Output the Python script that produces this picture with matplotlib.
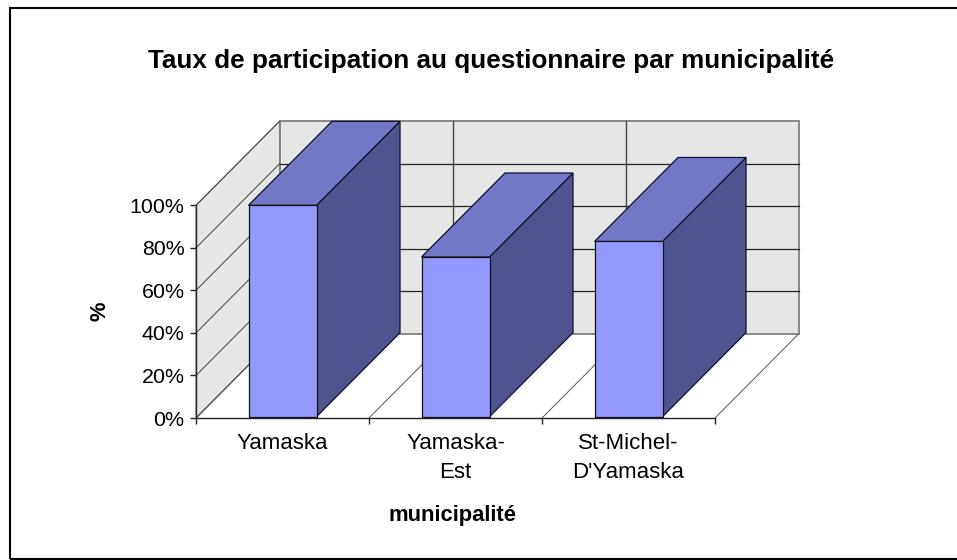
import matplotlib
matplotlib.use('Agg')
import matplotlib.pyplot as plt
from matplotlib.patches import Rectangle

municipalites = ["Yamaska", "Yamaska-\nEst", "St-Michel-\nD'Yamaska"]
participation = [100, 75.7, 83]
y_ticks = [0, 20, 40, 60, 80, 100]
y_labels = ['0%', '20%', '40%', '60%', '80%', '100%']

W, H = 957, 560
plt.rcParams['font.family'] = ['Liberation Sans', 'DejaVu Sans']

# depth of the fake 3D box, in data units (1 category = 173 px, 100% = 212.7 px)
depth_x = 83.5 / 173
depth_y = 84 / 2.127
bar_width = 68 / 173
wall = '#e6e6e6'
edge = '#111133'


def back(x, y):
	return x + depth_x, y + depth_y


def poly(ax, pts, color, ec, lw=1.0, z=2):
	ax.fill([p[0] for p in pts], [p[1] for p in pts], facecolor=color, edgecolor=ec,
		linewidth=lw, zorder=z, clip_on=False, joinstyle='miter')


fig = plt.figure(figsize=(W / 100, H / 100), dpi=100)
fig.patch.set_facecolor('white')
# frame runs off the right side of the picture
fig.add_artist(Rectangle((9.5 / W, 1 - 559 / H), (W + 20) / W, 551.5 / H, transform=fig.transFigure,
	fill=False, edgecolor='black', linewidth=1.5))

ax = fig.add_axes([196 / W, (H - 418) / H, 519 / W, 212.7 / H])
ax.set_xlim(0, len(municipalites))
ax.set_ylim(0, 100)
ax.patch.set_visible(False)
for s in ['top', 'right']:
	ax.spines[s].set_visible(False)
for s in ['left', 'bottom']:
	ax.spines[s].set_linewidth(1.0)
	ax.spines[s].set_color('#222222')
	ax.spines[s].set_zorder(6)

# walls
n = len(municipalites)
poly(ax, [back(0, 0), back(n, 0), back(n, 100), back(0, 100)], wall, '#808080', 1.3, 1)
poly(ax, [(0, 0), back(0, 0), back(0, 100), (0, 100)], wall, '#808080', 0.8, 1)

# gridlines on both walls, and floor lines
for t in y_ticks:
	ax.plot([0, back(0, t)[0]], [t, back(0, t)[1]], color='#444444', lw=0.7, zorder=1.5, clip_on=False)
	if 0 < t < 100:
		ax.plot([back(0, t)[0], back(n, t)[0]], [back(0, t)[1]] * 2, color='#222222', lw=0.9, zorder=1.5, clip_on=False)
for i in range(n + 1):
	ax.plot([i, back(i, 0)[0]], [0, depth_y], color='#555555', lw=0.7, zorder=1.5, clip_on=False)
	if 0 < i < n:
		ax.plot([back(i, 0)[0]] * 2, [depth_y, depth_y + 100], color='#444444', lw=1.0, zorder=1.5, clip_on=False)

# bars
for i, v in enumerate(participation):
	x0 = i + 0.5 - bar_width / 2
	x1 = x0 + bar_width
	poly(ax, [(x1, 0.6), back(x1, 0.6), back(x1, v), (x1, v)], '#4f5490', edge, 0.9, 3)
	poly(ax, [(x0, v), (x1, v), back(x1, v), back(x0, v)], '#7378c6', edge, 0.9, 3)
	ax.bar(x0, v - 0.6, width=bar_width, bottom=0.6, align='edge', color='#9499ff', edgecolor='#111111',
		linewidth=0.9, zorder=4, clip_on=False)

ax.set_yticks(y_ticks)
ax.set_yticklabels(y_labels, fontsize=15.4, color='black')
ax.set_xticks(range(n + 1))
ax.set_xticklabels([])
ax.set_xticks([i + 0.5 for i in range(n)], minor=True)
ax.set_xticklabels(municipalites, minor=True, fontsize=16, color='black', linespacing=1.5)
ax.tick_params(axis='x', which='minor', length=0, pad=11)
ax.tick_params(axis='x', which='major', length=4.3, width=1.0, color='#222222')
ax.tick_params(axis='y', length=4.3, width=1.0, color='#222222', pad=4)

fig.text(491.5 / W, 1 - 68 / H, 'Taux de participation au questionnaire par municipalité', ha='center', va='baseline',
	fontsize=18.8, fontweight='bold', color='black')
fig.text(453 / W, 1 - 521 / H, 'municipalité', ha='center', va='baseline', fontsize=15.8, fontweight='bold', color='black')
fig.text(100 / W, 1 - 311 / H, '%', ha='center', va='center', rotation=90, fontsize=15.8, fontweight='bold', color='black')

fig.savefig('out.png', dpi=100)
